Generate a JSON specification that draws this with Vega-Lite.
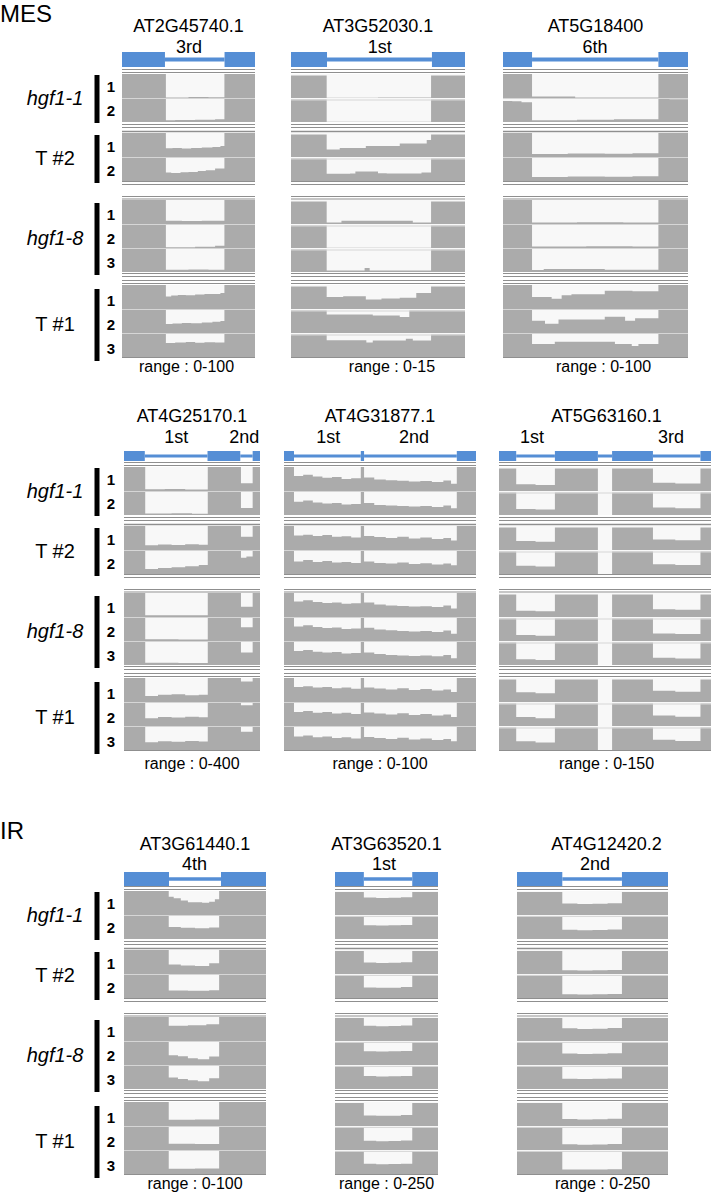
{
"$schema":"https://vega.github.io/schema/vega-lite/v6.json",
"padding":{"top":3,"left":0,"right":0,"bottom":0},
"background":"white",
"config":{"view":{"stroke":null},"font":"Liberation Sans","axis":{"disable":true},"area":{"color":"#ababab","interpolate":"step-after"},"rule":{"color":"#8f8f8f","strokeWidth":1},"text":{"font":"Liberation Sans","color":"black"},"title":{"font":"Liberation Sans","fontWeight":"normal","color":"black"},"point":{"opacity":0}},
"datasets":{
"genes":[{"g":"AT2G45740.1","rng":"range : 0-100"},{"g":"AT3G52030.1","rng":"range : 0-15"},{"g":"AT5G18400","rng":"range : 0-100"},{"g":"AT4G25170.1","rng":"range : 0-400"},{"g":"AT4G31877.1","rng":"range : 0-100"},{"g":"AT5G63160.1","rng":"range : 0-150"},{"g":"AT3G61440.1","rng":"range : 0-100"},{"g":"AT3G63520.1","rng":"range : 0-250"},{"g":"AT4G12420.2","rng":"range : 0-250"}],
"ex":[{"g":"AT2G45740.1","s":0,"e":32.3},{"g":"AT2G45740.1","s":77.1,"e":100},{"g":"AT3G52030.1","s":0,"e":20.7},{"g":"AT3G52030.1","s":81,"e":100},{"g":"AT5G18400","s":0,"e":15.7},{"g":"AT5G18400","s":84,"e":100},{"g":"AT4G25170.1","s":0,"e":15.3},{"g":"AT4G25170.1","s":61.4,"e":85.5},{"g":"AT4G25170.1","s":94.6,"e":100},{"g":"AT4G31877.1","s":0,"e":5.2},{"g":"AT4G31877.1","s":40,"e":41.7},{"g":"AT4G31877.1","s":90,"e":100},{"g":"AT5G63160.1","s":0,"e":8},{"g":"AT5G63160.1","s":26,"e":46},{"g":"AT5G63160.1","s":52.6,"e":71.6},{"g":"AT5G63160.1","s":93.7,"e":100},{"g":"AT3G61440.1","s":0,"e":31.7},{"g":"AT3G61440.1","s":68.3,"e":100},{"g":"AT3G63520.1","s":0,"e":28},{"g":"AT3G63520.1","s":75,"e":100},{"g":"AT4G12420.2","s":0,"e":30},{"g":"AT4G12420.2","s":69.5,"e":100}],
"in":[{"g":"AT2G45740.1","s":32.3,"e":77.1},{"g":"AT3G52030.1","s":20.7,"e":81},{"g":"AT5G18400","s":15.7,"e":84},{"g":"AT4G25170.1","s":15.3,"e":61.4},{"g":"AT4G25170.1","s":85.5,"e":94.6},{"g":"AT4G31877.1","s":5.2,"e":40},{"g":"AT4G31877.1","s":41.7,"e":90},{"g":"AT5G63160.1","s":8,"e":26},{"g":"AT5G63160.1","s":46,"e":52.6},{"g":"AT5G63160.1","s":71.6,"e":93.7},{"g":"AT3G61440.1","s":31.7,"e":68.3},{"g":"AT3G63520.1","s":28,"e":75},{"g":"AT4G12420.2","s":30,"e":69.5}],
"il":[{"g":"AT2G45740.1","x":50.4,"t":"3rd"},{"g":"AT3G52030.1","x":51,"t":"1st"},{"g":"AT5G18400","x":49.7,"t":"6th"},{"g":"AT4G25170.1","x":38.5,"t":"1st"},{"g":"AT4G25170.1","x":88.5,"t":"2nd"},{"g":"AT4G31877.1","x":23,"t":"1st"},{"g":"AT4G31877.1","x":67.7,"t":"2nd"},{"g":"AT5G63160.1","x":15.3,"t":"1st"},{"g":"AT5G63160.1","x":80,"t":"3rd"},{"g":"AT3G61440.1","x":49.6,"t":"4th"},{"g":"AT3G63520.1","x":47.6,"t":"1st"},{"g":"AT4G12420.2","x":51.7,"t":"2nd"}],
"lab":[{"s":"hgf1-1","p":"name"},{"s":"hgf1-1","p":"bar"},{"s":"hgf1-1","p":"num","r":1},{"s":"hgf1-1","p":"num","r":2},{"s":"T #2","p":"name"},{"s":"T #2","p":"bar"},{"s":"T #2","p":"num","r":1},{"s":"T #2","p":"num","r":2},{"s":"hgf1-8","p":"name"},{"s":"hgf1-8","p":"bar"},{"s":"hgf1-8","p":"num","r":1},{"s":"hgf1-8","p":"num","r":2},{"s":"hgf1-8","p":"num","r":3},{"s":"T #1","p":"name"},{"s":"T #1","p":"bar"},{"s":"T #1","p":"num","r":1},{"s":"T #1","p":"num","r":2},{"s":"T #1","p":"num","r":3}],
"cov":[
{"g":"AT2G45740.1","s":"hgf1-1","r":1,"x":[0,33,50,65,77,100],"y":[100,2,4,3,100,100]},
{"g":"AT2G45740.1","s":"hgf1-1","r":2,"x":[0,33,40,55,70,77,100],"y":[100,7,8,9,11,100,100]},
{"g":"AT2G45740.1","s":"T #2","r":1,"x":[0,33,38,45,52,60,68,74,77,100],"y":[100,36,37,35,38,40,42,46,100,100]},
{"g":"AT2G45740.1","s":"T #2","r":2,"x":[0,33,37,44,50,57,63,70,77,100],"y":[100,35,33,36,38,42,45,52,100,100]},
{"g":"AT2G45740.1","s":"hgf1-8","r":1,"x":[0,33,45,60,77,100],"y":[100,14,13,14,100,100]},
{"g":"AT2G45740.1","s":"hgf1-8","r":2,"x":[0,33,55,70,77,100],"y":[100,3,5,9,100,100]},
{"g":"AT2G45740.1","s":"hgf1-8","r":3,"x":[0,33,50,65,77,100],"y":[100,9,10,9,100,100]},
{"g":"AT2G45740.1","s":"T #1","r":1,"x":[0,33,37,42,48,55,62,70,74,77,100],"y":[100,52,56,58,57,60,62,63,67,100,100]},
{"g":"AT2G45740.1","s":"T #1","r":2,"x":[0,33,38,45,52,60,68,74,77,100],"y":[100,38,40,42,41,44,47,50,100,100]},
{"g":"AT2G45740.1","s":"T #1","r":3,"x":[0,33,40,48,55,62,70,77,100],"y":[100,58,60,62,59,61,60,100,100]},
{"g":"AT3G52030.1","s":"hgf1-1","r":1,"x":[0,20.5,50,80.5,100],"y":[15,0.2,0.3,15,15]},
{"g":"AT3G52030.1","s":"hgf1-1","r":2,"x":[0,20.5,50,80.5,100],"y":[15,0.2,0.2,15,15]},
{"g":"AT3G52030.1","s":"T #2","r":1,"x":[0,20.5,28,43,62.5,78,80.5,100],"y":[15,5,6,7.4,9,11.4,15,15]},
{"g":"AT3G52030.1","s":"T #2","r":2,"x":[0,20.5,34,37,50,55,75,80.5,100],"y":[15,4.9,5,6.4,5.2,5,5.6,15,15]},
{"g":"AT3G52030.1","s":"hgf1-8","r":1,"x":[0,20.5,29,70,80.5,100],"y":[15,1,2.1,1,15,15]},
{"g":"AT3G52030.1","s":"hgf1-8","r":2,"x":[0,20.5,80.5,100],"y":[15,0.2,15,15]},
{"g":"AT3G52030.1","s":"hgf1-8","r":3,"x":[0,20.5,42.3,45.2,80.5,100],"y":[15,1,2.6,1,15,15]},
{"g":"AT3G52030.1","s":"T #1","r":1,"x":[0,20.5,30,43,52,62.5,72,80.5,100],"y":[15,8,8.5,6.4,7,7.5,10.7,15,15]},
{"g":"AT3G52030.1","s":"T #1","r":2,"x":[0,20.5,47,62.5,68,100],"y":[15,12.3,11.6,10.6,15,15]},
{"g":"AT3G52030.1","s":"T #1","r":3,"x":[0,20.5,43.3,47,66,70,80.5,100],"y":[15,11.1,9.6,11,12.2,11,15,15]},
{"g":"AT5G18400","s":"hgf1-1","r":1,"x":[0,15.7,39,84,100],"y":[100,6,2,100,100]},
{"g":"AT5G18400","s":"hgf1-1","r":2,"x":[0,5,10,15.7,40,60,84,90,100],"y":[88,86,82,7,9,11,97,95,95]},
{"g":"AT5G18400","s":"T #2","r":1,"x":[0,15.7,35,55,70,84,100],"y":[100,13,15,14,16,100,100]},
{"g":"AT5G18400","s":"T #2","r":2,"x":[0,15.7,35,55,70,84,100],"y":[100,17,19,18,20,100,100]},
{"g":"AT5G18400","s":"hgf1-8","r":1,"x":[0,15.7,40,65,84,100],"y":[100,6,7,6,100,100]},
{"g":"AT5G18400","s":"hgf1-8","r":2,"x":[0,15.7,45,70,84,100],"y":[100,6,7,6,100,100]},
{"g":"AT5G18400","s":"hgf1-8","r":3,"x":[0,15.7,22,55,84,100],"y":[100,8,13,9,100,100]},
{"g":"AT5G18400","s":"T #1","r":1,"x":[0,15.7,26.3,31.7,37,55,70,84,100],"y":[100,50,43,57,61,76,74,100,100]},
{"g":"AT5G18400","s":"T #1","r":2,"x":[0,15.7,22.7,30,55,66,71.4,84,100],"y":[100,51,39,56,68,51,61,100,100]},
{"g":"AT5G18400","s":"T #1","r":3,"x":[0,15.7,28,60.5,69.6,73.2,84,100],"y":[100,54,64,54,46,54,100,100]},
{"g":"AT4G25170.1","s":"hgf1-1","r":1,"x":[0,15.6,30,45,61.6,86,94.6,100],"y":[400,28,34,26,400,128,400,400]},
{"g":"AT4G25170.1","s":"hgf1-1","r":2,"x":[0,15.6,35,50,61.6,86,94.6,100],"y":[400,24,28,22,400,116,400,400]},
{"g":"AT4G25170.1","s":"T #2","r":1,"x":[0,15.6,25,35,45,55,61.6,86,94.6,100],"y":[400,80,92,84,96,88,400,220,400,400]},
{"g":"AT4G25170.1","s":"T #2","r":2,"x":[0,15.6,25,35,45,55,61.6,86,90,94.6,100],"y":[400,84,100,112,128,150,400,270,290,400,400]},
{"g":"AT4G25170.1","s":"hgf1-8","r":1,"x":[0,15.6,40,61.6,86,94.6,100],"y":[400,28,30,400,172,400,400]},
{"g":"AT4G25170.1","s":"hgf1-8","r":2,"x":[0,15.6,40,61.6,86,94.6,100],"y":[400,28,26,400,228,400,400]},
{"g":"AT4G25170.1","s":"hgf1-8","r":3,"x":[0,15.6,40,61.6,86,94.6,100],"y":[400,36,34,400,208,400,400]},
{"g":"AT4G25170.1","s":"T #1","r":1,"x":[0,15.6,25,35,45,55,61.6,86,94.6,100],"y":[400,100,120,128,112,120,400,340,400,400]},
{"g":"AT4G25170.1","s":"T #1","r":2,"x":[0,15.6,25,35,45,55,61.6,86,94.6,100],"y":[400,130,150,140,156,144,400,344,400,400]},
{"g":"AT4G25170.1","s":"T #1","r":3,"x":[0,15.6,25,35,45,55,61.6,86,94.6,100],"y":[400,128,144,136,150,140,400,304,400,400]},
{"g":"AT4G31877.1","s":"hgf1-1","r":1,"x":[0,5.2,10,15,20,25,30,35,40,41.7,47,53,59,65,71,77,83,87,90,100],"y":[100,62,68,60,55,58,50,53,100,56,48,45,43,40,42,38,44,30,100,100]},
{"g":"AT4G31877.1","s":"hgf1-1","r":2,"x":[0,5.2,10,15,20,25,30,35,40,41.7,47,53,59,65,71,77,83,87,90,100],"y":[100,55,60,52,48,50,44,46,100,50,42,40,38,35,37,33,40,28,100,100]},
{"g":"AT4G31877.1","s":"T #2","r":1,"x":[0,5.2,10,15,20,25,30,35,40,41.7,47,53,59,65,71,77,83,87,90,100],"y":[100,60,64,58,62,55,57,52,100,58,54,50,55,48,52,46,50,40,100,100]},
{"g":"AT4G31877.1","s":"T #2","r":2,"x":[0,5.2,10,15,20,25,30,35,40,41.7,47,53,59,65,71,77,83,87,90,100],"y":[100,52,58,50,54,48,50,46,100,52,46,44,48,42,45,40,44,36,100,100]},
{"g":"AT4G31877.1","s":"hgf1-8","r":1,"x":[0,5.2,10,15,20,25,30,35,40,41.7,47,53,59,65,71,77,83,87,90,100],"y":[100,65,70,62,58,60,55,57,100,60,52,48,46,44,45,42,48,35,100,100]},
{"g":"AT4G31877.1","s":"hgf1-8","r":2,"x":[0,5.2,10,15,20,25,30,35,40,41.7,47,53,59,65,71,77,83,87,90,100],"y":[100,60,66,58,54,56,50,52,100,55,48,45,42,40,42,38,44,30,100,100]},
{"g":"AT4G31877.1","s":"hgf1-8","r":3,"x":[0,5.2,10,15,20,25,30,35,40,41.7,47,53,59,65,71,77,83,87,90,100],"y":[100,58,63,55,52,54,48,50,100,52,46,42,40,38,40,36,42,28,100,100]},
{"g":"AT4G31877.1","s":"T #1","r":1,"x":[0,5.2,10,15,20,25,30,35,40,41.7,47,53,59,65,71,77,83,87,90,100],"y":[100,62,66,60,63,57,60,55,100,60,56,52,57,50,54,48,52,42,100,100]},
{"g":"AT4G31877.1","s":"T #1","r":2,"x":[0,5.2,10,15,20,25,30,35,40,41.7,47,53,59,65,71,77,83,87,90,100],"y":[100,58,62,55,58,52,55,50,100,56,52,48,53,46,50,44,48,38,100,100]},
{"g":"AT4G31877.1","s":"T #1","r":3,"x":[0,5.2,10,15,20,25,30,35,40,41.7,47,53,59,65,71,77,83,87,90,100],"y":[100,56,60,53,56,50,53,48,100,54,50,46,51,44,48,42,46,36,100,100]},
{"g":"AT5G63160.1","s":"hgf1-1","r":1,"x":[0,8,17,26,46,52.6,71.6,82,93.7,100],"y":[150,45,40,150,0,150,55,50,150,150]},
{"g":"AT5G63160.1","s":"hgf1-1","r":2,"x":[0,8,17,26,46,52.6,71.6,82,93.7,100],"y":[150,40,36,150,0,150,50,45,150,150]},
{"g":"AT5G63160.1","s":"T #2","r":1,"x":[0,8,17,26,46,52.6,71.6,82,93.7,100],"y":[150,60,55,150,0,150,70,65,150,150]},
{"g":"AT5G63160.1","s":"T #2","r":2,"x":[0,8,17,26,46,52.6,71.6,82,93.7,100],"y":[150,55,50,150,0,150,65,60,150,150]},
{"g":"AT5G63160.1","s":"hgf1-8","r":1,"x":[0,8,17,26,46,52.6,71.6,82,93.7,100],"y":[150,42,38,150,0,150,52,48,150,150]},
{"g":"AT5G63160.1","s":"hgf1-8","r":2,"x":[0,8,17,26,46,52.6,71.6,82,93.7,100],"y":[150,40,35,150,0,150,50,46,150,150]},
{"g":"AT5G63160.1","s":"hgf1-8","r":3,"x":[0,8,17,26,46,52.6,71.6,82,93.7,100],"y":[150,38,34,150,0,150,48,44,150,150]},
{"g":"AT5G63160.1","s":"T #1","r":1,"x":[0,8,17,26,46,52.6,71.6,82,93.7,100],"y":[150,65,58,150,0,150,75,68,150,150]},
{"g":"AT5G63160.1","s":"T #1","r":2,"x":[0,8,17,26,46,52.6,71.6,82,93.7,100],"y":[150,60,52,150,0,150,70,62,150,150]},
{"g":"AT5G63160.1","s":"T #1","r":3,"x":[0,8,17,26,46,52.6,71.6,82,93.7,100],"y":[150,58,50,150,0,150,68,60,150,150]},
{"g":"AT3G61440.1","s":"hgf1-1","r":1,"x":[0,31.5,35,40,45,55,60,64,67,100],"y":[100,76,70,60,53,51,55,66,100,100]},
{"g":"AT3G61440.1","s":"hgf1-1","r":2,"x":[0,31.5,40,50,60,67,100],"y":[100,50,47,45,48,100,100]},
{"g":"AT3G61440.1","s":"T #2","r":1,"x":[0,31.5,40,50,60,67,100],"y":[100,40,35,33,45,100,100]},
{"g":"AT3G61440.1","s":"T #2","r":2,"x":[0,31.5,45,60,67,100],"y":[100,31,30,32,100,100]},
{"g":"AT3G61440.1","s":"hgf1-8","r":1,"x":[0,31.5,45,58,67,100],"y":[100,64,66,70,100,100]},
{"g":"AT3G61440.1","s":"hgf1-8","r":2,"x":[0,31.5,38,45,52,60,67,100],"y":[100,41,36,28,24,35,100,100]},
{"g":"AT3G61440.1","s":"hgf1-8","r":3,"x":[0,31.5,38,45,52,60,67,100],"y":[100,48,42,36,32,45,100,100]},
{"g":"AT3G61440.1","s":"T #1","r":1,"x":[0,31.5,50,67,100],"y":[100,26,27,100,100]},
{"g":"AT3G61440.1","s":"T #1","r":2,"x":[0,31.5,50,67,100],"y":[100,26,25,100,100]},
{"g":"AT3G61440.1","s":"T #1","r":3,"x":[0,31.5,50,67,100],"y":[100,22,23,100,100]},
{"g":"AT3G63520.1","s":"hgf1-1","r":1,"x":[0,28,40,52,64,75,100],"y":[250,190,185,188,192,250,250]},
{"g":"AT3G63520.1","s":"hgf1-1","r":2,"x":[0,28,40,52,64,75,100],"y":[250,150,145,148,152,250,250]},
{"g":"AT3G63520.1","s":"T #2","r":1,"x":[0,28,40,52,64,75,100],"y":[250,125,120,122,128,250,250]},
{"g":"AT3G63520.1","s":"T #2","r":2,"x":[0,28,40,52,64,75,100],"y":[250,115,110,112,118,250,250]},
{"g":"AT3G63520.1","s":"hgf1-8","r":1,"x":[0,28,40,52,64,75,100],"y":[250,165,160,162,168,250,250]},
{"g":"AT3G63520.1","s":"hgf1-8","r":2,"x":[0,28,40,52,64,75,100],"y":[250,150,145,148,152,250,250]},
{"g":"AT3G63520.1","s":"hgf1-8","r":3,"x":[0,28,40,52,64,75,100],"y":[250,140,135,138,142,250,250]},
{"g":"AT3G63520.1","s":"T #1","r":1,"x":[0,28,40,52,64,75,100],"y":[250,115,110,112,118,250,250]},
{"g":"AT3G63520.1","s":"T #1","r":2,"x":[0,28,40,52,64,75,100],"y":[250,100,95,98,102,250,250]},
{"g":"AT3G63520.1","s":"T #1","r":3,"x":[0,28,40,52,64,75,100],"y":[250,110,105,108,112,250,250]},
{"g":"AT4G12420.2","s":"hgf1-1","r":1,"x":[0,30,40,50,60,69.5,100],"y":[250,125,120,122,128,250,250]},
{"g":"AT4G12420.2","s":"hgf1-1","r":2,"x":[0,30,40,50,60,69.5,100],"y":[250,100,95,98,102,250,250]},
{"g":"AT4G12420.2","s":"T #2","r":1,"x":[0,30,40,50,60,69.5,100],"y":[250,40,38,40,42,250,250]},
{"g":"AT4G12420.2","s":"T #2","r":2,"x":[0,30,40,50,60,69.5,100],"y":[250,40,38,40,42,250,250]},
{"g":"AT4G12420.2","s":"hgf1-8","r":1,"x":[0,30,40,50,60,69.5,100],"y":[250,137,130,133,140,250,250]},
{"g":"AT4G12420.2","s":"hgf1-8","r":2,"x":[0,30,40,50,60,69.5,100],"y":[250,125,120,122,128,250,250]},
{"g":"AT4G12420.2","s":"hgf1-8","r":3,"x":[0,30,40,50,60,69.5,100],"y":[250,112,108,110,115,250,250]},
{"g":"AT4G12420.2","s":"T #1","r":1,"x":[0,30,40,50,60,69.5,100],"y":[250,75,70,72,78,250,250]},
{"g":"AT4G12420.2","s":"T #1","r":2,"x":[0,30,40,50,60,69.5,100],"y":[250,62,58,60,65,250,250]},
{"g":"AT4G12420.2","s":"T #1","r":3,"x":[0,30,40,50,60,69.5,100],"y":[250,50,48,50,52,250,250]}
]},
"spacing":48,
"vconcat":[
{"title":{"text":"MES","anchor":"start","fontSize":24,"offset":-9},"spacing":31,"vconcat":[
 {"spacing":0,"hconcat":[
  {"spacing":0,"vconcat":[
   {"width":121,"height":53.5,"data":{"values":[]},"mark":"point"},
   {"width":121,"height":48,"data":{"name":"lab"},"transform":[{"filter":"datum.s=='hgf1-1'"}],"encoding":{"x":{"field":"p","type":"nominal","scale":{"type":"point","domain":["name","a","b","bar","num"],"range":[55,111],"padding":0}}},"layer":[{"transform":[{"filter":"datum.p=='name'"}],"mark":{"type":"text","fontSize":20,"fontStyle":"italic"},"encoding":{"text":{"field":"s"}}},{"transform":[{"filter":"datum.p=='bar'"}],"mark":{"type":"rule","color":"black","strokeWidth":5},"encoding":{}},{"transform":[{"filter":"datum.p=='num'"}],"mark":{"type":"text","fontSize":15,"fontWeight":"bold"},"encoding":{"text":{"field":"r"},"y":{"field":"r","type":"ordinal","scale":{"type":"band","paddingInner":0,"paddingOuter":0}}}}]},
   {"width":1,"height":6,"data":{"values":[]},"mark":"point"},
   {"width":121,"height":48,"data":{"name":"lab"},"transform":[{"filter":"datum.s=='T #2'"}],"encoding":{"x":{"field":"p","type":"nominal","scale":{"type":"point","domain":["name","a","b","bar","num"],"range":[55,111],"padding":0}}},"layer":[{"transform":[{"filter":"datum.p=='name'"}],"mark":{"type":"text","fontSize":20},"encoding":{"text":{"field":"s"}}},{"transform":[{"filter":"datum.p=='bar'"}],"mark":{"type":"rule","color":"black","strokeWidth":5},"encoding":{}},{"transform":[{"filter":"datum.p=='num'"}],"mark":{"type":"text","fontSize":15,"fontWeight":"bold"},"encoding":{"text":{"field":"r"},"y":{"field":"r","type":"ordinal","scale":{"type":"band","paddingInner":0,"paddingOuter":0}}}}]},
   {"width":1,"height":14,"data":{"values":[]},"mark":"point"},
   {"width":121,"height":72,"data":{"name":"lab"},"transform":[{"filter":"datum.s=='hgf1-8'"}],"encoding":{"x":{"field":"p","type":"nominal","scale":{"type":"point","domain":["name","a","b","bar","num"],"range":[55,111],"padding":0}}},"layer":[{"transform":[{"filter":"datum.p=='name'"}],"mark":{"type":"text","fontSize":20,"fontStyle":"italic"},"encoding":{"text":{"field":"s"}}},{"transform":[{"filter":"datum.p=='bar'"}],"mark":{"type":"rule","color":"black","strokeWidth":5},"encoding":{}},{"transform":[{"filter":"datum.p=='num'"}],"mark":{"type":"text","fontSize":15,"fontWeight":"bold"},"encoding":{"text":{"field":"r"},"y":{"field":"r","type":"ordinal","scale":{"type":"band","paddingInner":0,"paddingOuter":0}}}}]},
   {"width":1,"height":8,"data":{"values":[]},"mark":"point"},
   {"width":121,"height":72,"data":{"name":"lab"},"transform":[{"filter":"datum.s=='T #1'"}],"encoding":{"x":{"field":"p","type":"nominal","scale":{"type":"point","domain":["name","a","b","bar","num"],"range":[55,111],"padding":0}}},"layer":[{"transform":[{"filter":"datum.p=='name'"}],"mark":{"type":"text","fontSize":20},"encoding":{"text":{"field":"s"}}},{"transform":[{"filter":"datum.p=='bar'"}],"mark":{"type":"rule","color":"black","strokeWidth":5},"encoding":{}},{"transform":[{"filter":"datum.p=='num'"}],"mark":{"type":"text","fontSize":15,"fontWeight":"bold"},"encoding":{"text":{"field":"r"},"y":{"field":"r","type":"ordinal","scale":{"type":"band","paddingInner":0,"paddingOuter":0}}}}]}
  ]},
  {"spacing":0,"vconcat":[
   {"width":133,"height":51,"layer":[
    {"data":{"name":"ex"},"transform":[{"filter":"datum.g=='AT2G45740.1'"}],"mark":{"type":"rect","color":"#558ed5"},"encoding":{"x":{"field":"s","type":"quantitative","scale":{"domain":[0,100]}},"x2":{"field":"e"},"y":{"datum":0.39,"type":"quantitative","scale":{"domain":[0,10]}},"y2":{"datum":3.33}}},
    {"data":{"name":"in"},"transform":[{"filter":"datum.g=='AT2G45740.1'"}],"mark":{"type":"rule","color":"#558ed5","strokeWidth":4},"encoding":{"x":{"field":"s","type":"quantitative"},"x2":{"field":"e"},"y":{"datum":1.86,"type":"quantitative"}}},
    {"data":{"name":"il"},"transform":[{"filter":"datum.g=='AT2G45740.1'"}],"mark":{"type":"text","fontSize":18,"baseline":"alphabetic"},"encoding":{"x":{"field":"x","type":"quantitative"},"y":{"datum":3.14,"type":"quantitative"},"text":{"field":"t"}}},
    {"data":{"name":"genes"},"transform":[{"filter":"datum.g=='AT2G45740.1'"}],"mark":{"type":"text","fontSize":18,"baseline":"alphabetic"},"encoding":{"y":{"datum":7.25,"type":"quantitative"},"text":{"field":"g"}}}
   ]},
   {"width":133,"height":5,"data":{"values":[{}]},"encoding":{"y":{"datum":1,"type":"quantitative","scale":{"domain":[0,1]}}},"layer":[{"mark":{"type":"rule","yOffset":0.5},"encoding":{}},{"mark":{"type":"rule","yOffset":3.5},"encoding":{}}]},
   {"data":{"name":"cov"},"transform":[{"filter":"datum.g=='AT2G45740.1'&&datum.s=='hgf1-1'"},{"flatten":["x","y"]}],"facet":{"row":{"field":"r","type":"ordinal","header":null}},"spacing":0,"spec":{"width":133,"height":24,"view":{"fill":"#f8f8f8"},"layer":[{"mark":"area","encoding":{"x":{"field":"x","type":"quantitative","scale":{"domain":[0,100]}},"y":{"field":"y","type":"quantitative","scale":{"domain":[0,100]}}}},{"transform":[{"filter":"datum.r>1&&datum.x==0"}],"mark":{"type":"rule","color":"#d6d6d6","yOffset":0.5},"encoding":{"y":{"datum":100,"type":"quantitative"}}}]}},
   {"width":133,"height":11,"data":{"values":[{}]},"encoding":{"y":{"datum":1,"type":"quantitative","scale":{"domain":[0,1]}}},"layer":[{"mark":{"type":"rule","yOffset":2.5},"encoding":{}},{"mark":{"type":"rule","yOffset":5.5},"encoding":{}},{"mark":{"type":"rule","yOffset":9.5,"strokeWidth":1.5},"encoding":{}}]},
   {"data":{"name":"cov"},"transform":[{"filter":"datum.g=='AT2G45740.1'&&datum.s=='T #2'"},{"flatten":["x","y"]}],"facet":{"row":{"field":"r","type":"ordinal","header":null}},"spacing":0,"spec":{"width":133,"height":24,"view":{"fill":"#f8f8f8"},"layer":[{"mark":"area","encoding":{"x":{"field":"x","type":"quantitative","scale":{"domain":[0,100]}},"y":{"field":"y","type":"quantitative","scale":{"domain":[0,100]}}}},{"transform":[{"filter":"datum.r>1&&datum.x==0"}],"mark":{"type":"rule","color":"#d6d6d6","yOffset":0.5},"encoding":{"y":{"datum":100,"type":"quantitative"}}}]}},
   {"width":133,"height":19,"data":{"values":[{}]},"encoding":{"y":{"datum":1,"type":"quantitative","scale":{"domain":[0,1]}}},"layer":[{"mark":{"type":"rule","yOffset":0.5},"encoding":{}},{"mark":{"type":"rule","yOffset":3.5},"encoding":{}},{"mark":{"type":"rule","yOffset":15.5},"encoding":{}},{"mark":{"type":"rule","yOffset":18},"encoding":{}}]},
   {"data":{"name":"cov"},"transform":[{"filter":"datum.g=='AT2G45740.1'&&datum.s=='hgf1-8'"},{"flatten":["x","y"]}],"facet":{"row":{"field":"r","type":"ordinal","header":null}},"spacing":0,"spec":{"width":133,"height":24,"view":{"fill":"#f8f8f8"},"layer":[{"mark":"area","encoding":{"x":{"field":"x","type":"quantitative","scale":{"domain":[0,100]}},"y":{"field":"y","type":"quantitative","scale":{"domain":[0,100]}}}},{"transform":[{"filter":"datum.r>1&&datum.x==0"}],"mark":{"type":"rule","color":"#d6d6d6","yOffset":0.5},"encoding":{"y":{"datum":100,"type":"quantitative"}}}]}},
   {"width":133,"height":13,"data":{"values":[{}]},"encoding":{"y":{"datum":1,"type":"quantitative","scale":{"domain":[0,1]}}},"layer":[{"mark":{"type":"rule","yOffset":1.5},"encoding":{}},{"mark":{"type":"rule","yOffset":4.5},"encoding":{}},{"mark":{"type":"rule","yOffset":8.5},"encoding":{}},{"mark":{"type":"rule","yOffset":11.5},"encoding":{}}]},
   {"data":{"name":"cov"},"transform":[{"filter":"datum.g=='AT2G45740.1'&&datum.s=='T #1'"},{"flatten":["x","y"]}],"facet":{"row":{"field":"r","type":"ordinal","header":null}},"spacing":0,"spec":{"width":133,"height":24,"view":{"fill":"#f8f8f8"},"layer":[{"mark":"area","encoding":{"x":{"field":"x","type":"quantitative","scale":{"domain":[0,100]}},"y":{"field":"y","type":"quantitative","scale":{"domain":[0,100]}}}},{"transform":[{"filter":"datum.r>1&&datum.x==0"}],"mark":{"type":"rule","color":"#d6d6d6","yOffset":0.5},"encoding":{"y":{"datum":100,"type":"quantitative"}}}]}},
   {"width":133,"height":2,"data":{"values":[{}]},"encoding":{"y":{"datum":1,"type":"quantitative","scale":{"domain":[0,1]}}},"layer":[{"mark":{"type":"rule","yOffset":0.5},"encoding":{}}]},
   {"width":133,"height":16,"data":{"name":"genes"},"transform":[{"filter":"datum.g=='AT2G45740.1'"}],"mark":{"type":"text","fontSize":16,"dx":-2},"encoding":{"text":{"field":"rng"}}}
  ]},
  {"width":34,"height":1,"data":{"values":[]},"mark":"point"},
  {"spacing":0,"vconcat":[
   {"width":174,"height":51,"layer":[
    {"data":{"name":"ex"},"transform":[{"filter":"datum.g=='AT3G52030.1'"}],"mark":{"type":"rect","color":"#558ed5"},"encoding":{"x":{"field":"s","type":"quantitative","scale":{"domain":[0,100]}},"x2":{"field":"e"},"y":{"datum":0.39,"type":"quantitative","scale":{"domain":[0,10]}},"y2":{"datum":3.33}}},
    {"data":{"name":"in"},"transform":[{"filter":"datum.g=='AT3G52030.1'"}],"mark":{"type":"rule","color":"#558ed5","strokeWidth":4},"encoding":{"x":{"field":"s","type":"quantitative"},"x2":{"field":"e"},"y":{"datum":1.86,"type":"quantitative"}}},
    {"data":{"name":"il"},"transform":[{"filter":"datum.g=='AT3G52030.1'"}],"mark":{"type":"text","fontSize":18,"baseline":"alphabetic"},"encoding":{"x":{"field":"x","type":"quantitative"},"y":{"datum":3.14,"type":"quantitative"},"text":{"field":"t"}}},
    {"data":{"name":"genes"},"transform":[{"filter":"datum.g=='AT3G52030.1'"}],"mark":{"type":"text","fontSize":18,"baseline":"alphabetic"},"encoding":{"y":{"datum":7.25,"type":"quantitative"},"text":{"field":"g"}}}
   ]},
   {"width":174,"height":5,"data":{"values":[{}]},"encoding":{"y":{"datum":1,"type":"quantitative","scale":{"domain":[0,1]}}},"layer":[{"mark":{"type":"rule","yOffset":0.5},"encoding":{}},{"mark":{"type":"rule","yOffset":3.5},"encoding":{}}]},
   {"data":{"name":"cov"},"transform":[{"filter":"datum.g=='AT3G52030.1'&&datum.s=='hgf1-1'"},{"flatten":["x","y"]}],"facet":{"row":{"field":"r","type":"ordinal","header":null}},"spacing":0,"spec":{"width":174,"height":24,"view":{"fill":"#f8f8f8"},"layer":[{"mark":"area","encoding":{"x":{"field":"x","type":"quantitative","scale":{"domain":[0,100]}},"y":{"field":"y","type":"quantitative","scale":{"domain":[0,15]}}}},{"transform":[{"filter":"datum.r>1&&datum.x==0"}],"mark":{"type":"rule","color":"#d6d6d6","yOffset":0.5},"encoding":{"y":{"datum":15,"type":"quantitative"}}}]}},
   {"width":174,"height":11,"data":{"values":[{}]},"encoding":{"y":{"datum":1,"type":"quantitative","scale":{"domain":[0,1]}}},"layer":[{"mark":{"type":"rule","yOffset":2.5},"encoding":{}},{"mark":{"type":"rule","yOffset":5.5},"encoding":{}},{"mark":{"type":"rule","yOffset":9.5,"strokeWidth":1.5},"encoding":{}}]},
   {"data":{"name":"cov"},"transform":[{"filter":"datum.g=='AT3G52030.1'&&datum.s=='T #2'"},{"flatten":["x","y"]}],"facet":{"row":{"field":"r","type":"ordinal","header":null}},"spacing":0,"spec":{"width":174,"height":24,"view":{"fill":"#f8f8f8"},"layer":[{"mark":"area","encoding":{"x":{"field":"x","type":"quantitative","scale":{"domain":[0,100]}},"y":{"field":"y","type":"quantitative","scale":{"domain":[0,15]}}}},{"transform":[{"filter":"datum.r>1&&datum.x==0"}],"mark":{"type":"rule","color":"#d6d6d6","yOffset":0.5},"encoding":{"y":{"datum":15,"type":"quantitative"}}}]}},
   {"width":174,"height":19,"data":{"values":[{}]},"encoding":{"y":{"datum":1,"type":"quantitative","scale":{"domain":[0,1]}}},"layer":[{"mark":{"type":"rule","yOffset":0.5},"encoding":{}},{"mark":{"type":"rule","yOffset":3.5},"encoding":{}},{"mark":{"type":"rule","yOffset":15.5},"encoding":{}},{"mark":{"type":"rule","yOffset":18},"encoding":{}}]},
   {"data":{"name":"cov"},"transform":[{"filter":"datum.g=='AT3G52030.1'&&datum.s=='hgf1-8'"},{"flatten":["x","y"]}],"facet":{"row":{"field":"r","type":"ordinal","header":null}},"spacing":0,"spec":{"width":174,"height":24,"view":{"fill":"#f8f8f8"},"layer":[{"mark":"area","encoding":{"x":{"field":"x","type":"quantitative","scale":{"domain":[0,100]}},"y":{"field":"y","type":"quantitative","scale":{"domain":[0,15]}}}},{"transform":[{"filter":"datum.r>1&&datum.x==0"}],"mark":{"type":"rule","color":"#d6d6d6","yOffset":0.5},"encoding":{"y":{"datum":15,"type":"quantitative"}}}]}},
   {"width":174,"height":13,"data":{"values":[{}]},"encoding":{"y":{"datum":1,"type":"quantitative","scale":{"domain":[0,1]}}},"layer":[{"mark":{"type":"rule","yOffset":1.5},"encoding":{}},{"mark":{"type":"rule","yOffset":4.5},"encoding":{}},{"mark":{"type":"rule","yOffset":8.5},"encoding":{}},{"mark":{"type":"rule","yOffset":11.5},"encoding":{}}]},
   {"data":{"name":"cov"},"transform":[{"filter":"datum.g=='AT3G52030.1'&&datum.s=='T #1'"},{"flatten":["x","y"]}],"facet":{"row":{"field":"r","type":"ordinal","header":null}},"spacing":0,"spec":{"width":174,"height":24,"view":{"fill":"#f8f8f8"},"layer":[{"mark":"area","encoding":{"x":{"field":"x","type":"quantitative","scale":{"domain":[0,100]}},"y":{"field":"y","type":"quantitative","scale":{"domain":[0,15]}}}},{"transform":[{"filter":"datum.r>1&&datum.x==0"}],"mark":{"type":"rule","color":"#d6d6d6","yOffset":0.5},"encoding":{"y":{"datum":15,"type":"quantitative"}}}]}},
   {"width":174,"height":2,"data":{"values":[{}]},"encoding":{"y":{"datum":1,"type":"quantitative","scale":{"domain":[0,1]}}},"layer":[{"mark":{"type":"rule","yOffset":0.5},"encoding":{}}]},
   {"width":174,"height":16,"data":{"name":"genes"},"transform":[{"filter":"datum.g=='AT3G52030.1'"}],"mark":{"type":"text","fontSize":16,"dx":14},"encoding":{"text":{"field":"rng"}}}
  ]},
  {"width":36,"height":1,"data":{"values":[]},"mark":"point"},
  {"spacing":0,"vconcat":[
   {"width":185,"height":51,"layer":[
    {"data":{"name":"ex"},"transform":[{"filter":"datum.g=='AT5G18400'"}],"mark":{"type":"rect","color":"#558ed5"},"encoding":{"x":{"field":"s","type":"quantitative","scale":{"domain":[0,100]}},"x2":{"field":"e"},"y":{"datum":0.39,"type":"quantitative","scale":{"domain":[0,10]}},"y2":{"datum":3.33}}},
    {"data":{"name":"in"},"transform":[{"filter":"datum.g=='AT5G18400'"}],"mark":{"type":"rule","color":"#558ed5","strokeWidth":4},"encoding":{"x":{"field":"s","type":"quantitative"},"x2":{"field":"e"},"y":{"datum":1.86,"type":"quantitative"}}},
    {"data":{"name":"il"},"transform":[{"filter":"datum.g=='AT5G18400'"}],"mark":{"type":"text","fontSize":18,"baseline":"alphabetic"},"encoding":{"x":{"field":"x","type":"quantitative"},"y":{"datum":3.14,"type":"quantitative"},"text":{"field":"t"}}},
    {"data":{"name":"genes"},"transform":[{"filter":"datum.g=='AT5G18400'"}],"mark":{"type":"text","fontSize":18,"baseline":"alphabetic"},"encoding":{"y":{"datum":7.25,"type":"quantitative"},"text":{"field":"g"}}}
   ]},
   {"width":185,"height":5,"data":{"values":[{}]},"encoding":{"y":{"datum":1,"type":"quantitative","scale":{"domain":[0,1]}}},"layer":[{"mark":{"type":"rule","yOffset":0.5},"encoding":{}},{"mark":{"type":"rule","yOffset":3.5},"encoding":{}}]},
   {"data":{"name":"cov"},"transform":[{"filter":"datum.g=='AT5G18400'&&datum.s=='hgf1-1'"},{"flatten":["x","y"]}],"facet":{"row":{"field":"r","type":"ordinal","header":null}},"spacing":0,"spec":{"width":185,"height":24,"view":{"fill":"#f8f8f8"},"layer":[{"mark":"area","encoding":{"x":{"field":"x","type":"quantitative","scale":{"domain":[0,100]}},"y":{"field":"y","type":"quantitative","scale":{"domain":[0,100]}}}},{"transform":[{"filter":"datum.r>1&&datum.x==0"}],"mark":{"type":"rule","color":"#d6d6d6","yOffset":0.5},"encoding":{"y":{"datum":100,"type":"quantitative"}}}]}},
   {"width":185,"height":11,"data":{"values":[{}]},"encoding":{"y":{"datum":1,"type":"quantitative","scale":{"domain":[0,1]}}},"layer":[{"mark":{"type":"rule","yOffset":2.5},"encoding":{}},{"mark":{"type":"rule","yOffset":5.5},"encoding":{}},{"mark":{"type":"rule","yOffset":9.5,"strokeWidth":1.5},"encoding":{}}]},
   {"data":{"name":"cov"},"transform":[{"filter":"datum.g=='AT5G18400'&&datum.s=='T #2'"},{"flatten":["x","y"]}],"facet":{"row":{"field":"r","type":"ordinal","header":null}},"spacing":0,"spec":{"width":185,"height":24,"view":{"fill":"#f8f8f8"},"layer":[{"mark":"area","encoding":{"x":{"field":"x","type":"quantitative","scale":{"domain":[0,100]}},"y":{"field":"y","type":"quantitative","scale":{"domain":[0,100]}}}},{"transform":[{"filter":"datum.r>1&&datum.x==0"}],"mark":{"type":"rule","color":"#d6d6d6","yOffset":0.5},"encoding":{"y":{"datum":100,"type":"quantitative"}}}]}},
   {"width":185,"height":19,"data":{"values":[{}]},"encoding":{"y":{"datum":1,"type":"quantitative","scale":{"domain":[0,1]}}},"layer":[{"mark":{"type":"rule","yOffset":0.5},"encoding":{}},{"mark":{"type":"rule","yOffset":3.5},"encoding":{}},{"mark":{"type":"rule","yOffset":15.5},"encoding":{}},{"mark":{"type":"rule","yOffset":18},"encoding":{}}]},
   {"data":{"name":"cov"},"transform":[{"filter":"datum.g=='AT5G18400'&&datum.s=='hgf1-8'"},{"flatten":["x","y"]}],"facet":{"row":{"field":"r","type":"ordinal","header":null}},"spacing":0,"spec":{"width":185,"height":24,"view":{"fill":"#f8f8f8"},"layer":[{"mark":"area","encoding":{"x":{"field":"x","type":"quantitative","scale":{"domain":[0,100]}},"y":{"field":"y","type":"quantitative","scale":{"domain":[0,100]}}}},{"transform":[{"filter":"datum.r>1&&datum.x==0"}],"mark":{"type":"rule","color":"#d6d6d6","yOffset":0.5},"encoding":{"y":{"datum":100,"type":"quantitative"}}}]}},
   {"width":185,"height":13,"data":{"values":[{}]},"encoding":{"y":{"datum":1,"type":"quantitative","scale":{"domain":[0,1]}}},"layer":[{"mark":{"type":"rule","yOffset":1.5},"encoding":{}},{"mark":{"type":"rule","yOffset":4.5},"encoding":{}},{"mark":{"type":"rule","yOffset":8.5},"encoding":{}},{"mark":{"type":"rule","yOffset":11.5},"encoding":{}}]},
   {"data":{"name":"cov"},"transform":[{"filter":"datum.g=='AT5G18400'&&datum.s=='T #1'"},{"flatten":["x","y"]}],"facet":{"row":{"field":"r","type":"ordinal","header":null}},"spacing":0,"spec":{"width":185,"height":24,"view":{"fill":"#f8f8f8"},"layer":[{"mark":"area","encoding":{"x":{"field":"x","type":"quantitative","scale":{"domain":[0,100]}},"y":{"field":"y","type":"quantitative","scale":{"domain":[0,100]}}}},{"transform":[{"filter":"datum.r>1&&datum.x==0"}],"mark":{"type":"rule","color":"#d6d6d6","yOffset":0.5},"encoding":{"y":{"datum":100,"type":"quantitative"}}}]}},
   {"width":185,"height":2,"data":{"values":[{}]},"encoding":{"y":{"datum":1,"type":"quantitative","scale":{"domain":[0,1]}}},"layer":[{"mark":{"type":"rule","yOffset":0.5},"encoding":{}}]},
   {"width":185,"height":16,"data":{"name":"genes"},"transform":[{"filter":"datum.g=='AT5G18400'"}],"mark":{"type":"text","fontSize":16,"dx":8},"encoding":{"text":{"field":"rng"}}}
  ]}
 ]},
 {"spacing":0,"hconcat":[
  {"spacing":0,"vconcat":[
   {"width":123,"height":58.5,"data":{"values":[]},"mark":"point"},
   {"width":121,"height":48,"data":{"name":"lab"},"transform":[{"filter":"datum.s=='hgf1-1'"}],"encoding":{"x":{"field":"p","type":"nominal","scale":{"type":"point","domain":["name","a","b","bar","num"],"range":[55,111],"padding":0}}},"layer":[{"transform":[{"filter":"datum.p=='name'"}],"mark":{"type":"text","fontSize":20,"fontStyle":"italic"},"encoding":{"text":{"field":"s"}}},{"transform":[{"filter":"datum.p=='bar'"}],"mark":{"type":"rule","color":"black","strokeWidth":5},"encoding":{}},{"transform":[{"filter":"datum.p=='num'"}],"mark":{"type":"text","fontSize":15,"fontWeight":"bold"},"encoding":{"text":{"field":"r"},"y":{"field":"r","type":"ordinal","scale":{"type":"band","paddingInner":0,"paddingOuter":0}}}}]},
   {"width":1,"height":6,"data":{"values":[]},"mark":"point"},
   {"width":121,"height":48,"data":{"name":"lab"},"transform":[{"filter":"datum.s=='T #2'"}],"encoding":{"x":{"field":"p","type":"nominal","scale":{"type":"point","domain":["name","a","b","bar","num"],"range":[55,111],"padding":0}}},"layer":[{"transform":[{"filter":"datum.p=='name'"}],"mark":{"type":"text","fontSize":20},"encoding":{"text":{"field":"s"}}},{"transform":[{"filter":"datum.p=='bar'"}],"mark":{"type":"rule","color":"black","strokeWidth":5},"encoding":{}},{"transform":[{"filter":"datum.p=='num'"}],"mark":{"type":"text","fontSize":15,"fontWeight":"bold"},"encoding":{"text":{"field":"r"},"y":{"field":"r","type":"ordinal","scale":{"type":"band","paddingInner":0,"paddingOuter":0}}}}]},
   {"width":1,"height":14,"data":{"values":[]},"mark":"point"},
   {"width":121,"height":72,"data":{"name":"lab"},"transform":[{"filter":"datum.s=='hgf1-8'"}],"encoding":{"x":{"field":"p","type":"nominal","scale":{"type":"point","domain":["name","a","b","bar","num"],"range":[55,111],"padding":0}}},"layer":[{"transform":[{"filter":"datum.p=='name'"}],"mark":{"type":"text","fontSize":20,"fontStyle":"italic"},"encoding":{"text":{"field":"s"}}},{"transform":[{"filter":"datum.p=='bar'"}],"mark":{"type":"rule","color":"black","strokeWidth":5},"encoding":{}},{"transform":[{"filter":"datum.p=='num'"}],"mark":{"type":"text","fontSize":15,"fontWeight":"bold"},"encoding":{"text":{"field":"r"},"y":{"field":"r","type":"ordinal","scale":{"type":"band","paddingInner":0,"paddingOuter":0}}}}]},
   {"width":1,"height":8,"data":{"values":[]},"mark":"point"},
   {"width":121,"height":72,"data":{"name":"lab"},"transform":[{"filter":"datum.s=='T #1'"}],"encoding":{"x":{"field":"p","type":"nominal","scale":{"type":"point","domain":["name","a","b","bar","num"],"range":[55,111],"padding":0}}},"layer":[{"transform":[{"filter":"datum.p=='name'"}],"mark":{"type":"text","fontSize":20},"encoding":{"text":{"field":"s"}}},{"transform":[{"filter":"datum.p=='bar'"}],"mark":{"type":"rule","color":"black","strokeWidth":5},"encoding":{}},{"transform":[{"filter":"datum.p=='num'"}],"mark":{"type":"text","fontSize":15,"fontWeight":"bold"},"encoding":{"text":{"field":"r"},"y":{"field":"r","type":"ordinal","scale":{"type":"band","paddingInner":0,"paddingOuter":0}}}}]}
  ]},
  {"spacing":0,"vconcat":[
   {"width":136,"height":56,"layer":[
    {"data":{"name":"ex"},"transform":[{"filter":"datum.g=='AT4G25170.1'"}],"mark":{"type":"rect","color":"#558ed5"},"encoding":{"x":{"field":"s","type":"quantitative","scale":{"domain":[0,100]}},"x2":{"field":"e"},"y":{"datum":0.18,"type":"quantitative","scale":{"domain":[0,10]}},"y2":{"datum":1.96}}},
    {"data":{"name":"in"},"transform":[{"filter":"datum.g=='AT4G25170.1'"}],"mark":{"type":"rule","color":"#558ed5","strokeWidth":3},"encoding":{"x":{"field":"s","type":"quantitative"},"x2":{"field":"e"},"y":{"datum":1.07,"type":"quantitative"}}},
    {"data":{"name":"il"},"transform":[{"filter":"datum.g=='AT4G25170.1'"}],"mark":{"type":"text","fontSize":18,"baseline":"alphabetic"},"encoding":{"x":{"field":"x","type":"quantitative"},"y":{"datum":3.39,"type":"quantitative"},"text":{"field":"t"}}},
    {"data":{"name":"genes"},"transform":[{"filter":"datum.g=='AT4G25170.1'"}],"mark":{"type":"text","fontSize":18,"baseline":"alphabetic"},"encoding":{"y":{"datum":7.14,"type":"quantitative"},"text":{"field":"g"}}}
   ]},
   {"width":136,"height":5,"data":{"values":[{}]},"encoding":{"y":{"datum":1,"type":"quantitative","scale":{"domain":[0,1]}}},"layer":[{"mark":{"type":"rule","yOffset":0.5},"encoding":{}},{"mark":{"type":"rule","yOffset":3.5},"encoding":{}}]},
   {"data":{"name":"cov"},"transform":[{"filter":"datum.g=='AT4G25170.1'&&datum.s=='hgf1-1'"},{"flatten":["x","y"]}],"facet":{"row":{"field":"r","type":"ordinal","header":null}},"spacing":0,"spec":{"width":136,"height":24,"view":{"fill":"#f8f8f8"},"layer":[{"mark":"area","encoding":{"x":{"field":"x","type":"quantitative","scale":{"domain":[0,100]}},"y":{"field":"y","type":"quantitative","scale":{"domain":[0,400]}}}},{"transform":[{"filter":"datum.r>1&&datum.x==0"}],"mark":{"type":"rule","color":"#d6d6d6","yOffset":0.5},"encoding":{"y":{"datum":400,"type":"quantitative"}}}]}},
   {"width":136,"height":11,"data":{"values":[{}]},"encoding":{"y":{"datum":1,"type":"quantitative","scale":{"domain":[0,1]}}},"layer":[{"mark":{"type":"rule","yOffset":2.5},"encoding":{}},{"mark":{"type":"rule","yOffset":5.5},"encoding":{}},{"mark":{"type":"rule","yOffset":9.5,"strokeWidth":1.5},"encoding":{}}]},
   {"data":{"name":"cov"},"transform":[{"filter":"datum.g=='AT4G25170.1'&&datum.s=='T #2'"},{"flatten":["x","y"]}],"facet":{"row":{"field":"r","type":"ordinal","header":null}},"spacing":0,"spec":{"width":136,"height":24,"view":{"fill":"#f8f8f8"},"layer":[{"mark":"area","encoding":{"x":{"field":"x","type":"quantitative","scale":{"domain":[0,100]}},"y":{"field":"y","type":"quantitative","scale":{"domain":[0,400]}}}},{"transform":[{"filter":"datum.r>1&&datum.x==0"}],"mark":{"type":"rule","color":"#d6d6d6","yOffset":0.5},"encoding":{"y":{"datum":400,"type":"quantitative"}}}]}},
   {"width":136,"height":19,"data":{"values":[{}]},"encoding":{"y":{"datum":1,"type":"quantitative","scale":{"domain":[0,1]}}},"layer":[{"mark":{"type":"rule","yOffset":0.5},"encoding":{}},{"mark":{"type":"rule","yOffset":3.5},"encoding":{}},{"mark":{"type":"rule","yOffset":15.5},"encoding":{}},{"mark":{"type":"rule","yOffset":18},"encoding":{}}]},
   {"data":{"name":"cov"},"transform":[{"filter":"datum.g=='AT4G25170.1'&&datum.s=='hgf1-8'"},{"flatten":["x","y"]}],"facet":{"row":{"field":"r","type":"ordinal","header":null}},"spacing":0,"spec":{"width":136,"height":24,"view":{"fill":"#f8f8f8"},"layer":[{"mark":"area","encoding":{"x":{"field":"x","type":"quantitative","scale":{"domain":[0,100]}},"y":{"field":"y","type":"quantitative","scale":{"domain":[0,400]}}}},{"transform":[{"filter":"datum.r>1&&datum.x==0"}],"mark":{"type":"rule","color":"#d6d6d6","yOffset":0.5},"encoding":{"y":{"datum":400,"type":"quantitative"}}}]}},
   {"width":136,"height":13,"data":{"values":[{}]},"encoding":{"y":{"datum":1,"type":"quantitative","scale":{"domain":[0,1]}}},"layer":[{"mark":{"type":"rule","yOffset":1.5},"encoding":{}},{"mark":{"type":"rule","yOffset":4.5},"encoding":{}},{"mark":{"type":"rule","yOffset":8.5},"encoding":{}},{"mark":{"type":"rule","yOffset":11.5},"encoding":{}}]},
   {"data":{"name":"cov"},"transform":[{"filter":"datum.g=='AT4G25170.1'&&datum.s=='T #1'"},{"flatten":["x","y"]}],"facet":{"row":{"field":"r","type":"ordinal","header":null}},"spacing":0,"spec":{"width":136,"height":24,"view":{"fill":"#f8f8f8"},"layer":[{"mark":"area","encoding":{"x":{"field":"x","type":"quantitative","scale":{"domain":[0,100]}},"y":{"field":"y","type":"quantitative","scale":{"domain":[0,400]}}}},{"transform":[{"filter":"datum.r>1&&datum.x==0"}],"mark":{"type":"rule","color":"#d6d6d6","yOffset":0.5},"encoding":{"y":{"datum":400,"type":"quantitative"}}}]}},
   {"width":136,"height":6,"data":{"values":[{}]},"encoding":{"y":{"datum":1,"type":"quantitative","scale":{"domain":[0,1]}}},"layer":[{"mark":{"type":"rule","yOffset":0.5},"encoding":{}}]},
   {"width":136,"height":16,"data":{"name":"genes"},"transform":[{"filter":"datum.g=='AT4G25170.1'"}],"mark":{"type":"text","fontSize":16},"encoding":{"text":{"field":"rng"}}}
  ]},
  {"width":22,"height":1,"data":{"values":[]},"mark":"point"},
  {"spacing":0,"vconcat":[
   {"width":192,"height":56,"layer":[
    {"data":{"name":"ex"},"transform":[{"filter":"datum.g=='AT4G31877.1'"}],"mark":{"type":"rect","color":"#558ed5"},"encoding":{"x":{"field":"s","type":"quantitative","scale":{"domain":[0,100]}},"x2":{"field":"e"},"y":{"datum":0.18,"type":"quantitative","scale":{"domain":[0,10]}},"y2":{"datum":1.96}}},
    {"data":{"name":"in"},"transform":[{"filter":"datum.g=='AT4G31877.1'"}],"mark":{"type":"rule","color":"#558ed5","strokeWidth":3},"encoding":{"x":{"field":"s","type":"quantitative"},"x2":{"field":"e"},"y":{"datum":1.07,"type":"quantitative"}}},
    {"data":{"name":"il"},"transform":[{"filter":"datum.g=='AT4G31877.1'"}],"mark":{"type":"text","fontSize":18,"baseline":"alphabetic"},"encoding":{"x":{"field":"x","type":"quantitative"},"y":{"datum":3.39,"type":"quantitative"},"text":{"field":"t"}}},
    {"data":{"name":"genes"},"transform":[{"filter":"datum.g=='AT4G31877.1'"}],"mark":{"type":"text","fontSize":18,"baseline":"alphabetic"},"encoding":{"y":{"datum":7.14,"type":"quantitative"},"text":{"field":"g"}}}
   ]},
   {"width":192,"height":5,"data":{"values":[{}]},"encoding":{"y":{"datum":1,"type":"quantitative","scale":{"domain":[0,1]}}},"layer":[{"mark":{"type":"rule","yOffset":0.5},"encoding":{}},{"mark":{"type":"rule","yOffset":3.5},"encoding":{}}]},
   {"data":{"name":"cov"},"transform":[{"filter":"datum.g=='AT4G31877.1'&&datum.s=='hgf1-1'"},{"flatten":["x","y"]}],"facet":{"row":{"field":"r","type":"ordinal","header":null}},"spacing":0,"spec":{"width":192,"height":24,"view":{"fill":"#f8f8f8"},"layer":[{"mark":"area","encoding":{"x":{"field":"x","type":"quantitative","scale":{"domain":[0,100]}},"y":{"field":"y","type":"quantitative","scale":{"domain":[0,100]}}}},{"transform":[{"filter":"datum.r>1&&datum.x==0"}],"mark":{"type":"rule","color":"#d6d6d6","yOffset":0.5},"encoding":{"y":{"datum":100,"type":"quantitative"}}}]}},
   {"width":192,"height":11,"data":{"values":[{}]},"encoding":{"y":{"datum":1,"type":"quantitative","scale":{"domain":[0,1]}}},"layer":[{"mark":{"type":"rule","yOffset":2.5},"encoding":{}},{"mark":{"type":"rule","yOffset":5.5},"encoding":{}},{"mark":{"type":"rule","yOffset":9.5,"strokeWidth":1.5},"encoding":{}}]},
   {"data":{"name":"cov"},"transform":[{"filter":"datum.g=='AT4G31877.1'&&datum.s=='T #2'"},{"flatten":["x","y"]}],"facet":{"row":{"field":"r","type":"ordinal","header":null}},"spacing":0,"spec":{"width":192,"height":24,"view":{"fill":"#f8f8f8"},"layer":[{"mark":"area","encoding":{"x":{"field":"x","type":"quantitative","scale":{"domain":[0,100]}},"y":{"field":"y","type":"quantitative","scale":{"domain":[0,100]}}}},{"transform":[{"filter":"datum.r>1&&datum.x==0"}],"mark":{"type":"rule","color":"#d6d6d6","yOffset":0.5},"encoding":{"y":{"datum":100,"type":"quantitative"}}}]}},
   {"width":192,"height":19,"data":{"values":[{}]},"encoding":{"y":{"datum":1,"type":"quantitative","scale":{"domain":[0,1]}}},"layer":[{"mark":{"type":"rule","yOffset":0.5},"encoding":{}},{"mark":{"type":"rule","yOffset":3.5},"encoding":{}},{"mark":{"type":"rule","yOffset":15.5},"encoding":{}},{"mark":{"type":"rule","yOffset":18},"encoding":{}}]},
   {"data":{"name":"cov"},"transform":[{"filter":"datum.g=='AT4G31877.1'&&datum.s=='hgf1-8'"},{"flatten":["x","y"]}],"facet":{"row":{"field":"r","type":"ordinal","header":null}},"spacing":0,"spec":{"width":192,"height":24,"view":{"fill":"#f8f8f8"},"layer":[{"mark":"area","encoding":{"x":{"field":"x","type":"quantitative","scale":{"domain":[0,100]}},"y":{"field":"y","type":"quantitative","scale":{"domain":[0,100]}}}},{"transform":[{"filter":"datum.r>1&&datum.x==0"}],"mark":{"type":"rule","color":"#d6d6d6","yOffset":0.5},"encoding":{"y":{"datum":100,"type":"quantitative"}}}]}},
   {"width":192,"height":13,"data":{"values":[{}]},"encoding":{"y":{"datum":1,"type":"quantitative","scale":{"domain":[0,1]}}},"layer":[{"mark":{"type":"rule","yOffset":1.5},"encoding":{}},{"mark":{"type":"rule","yOffset":4.5},"encoding":{}},{"mark":{"type":"rule","yOffset":8.5},"encoding":{}},{"mark":{"type":"rule","yOffset":11.5},"encoding":{}}]},
   {"data":{"name":"cov"},"transform":[{"filter":"datum.g=='AT4G31877.1'&&datum.s=='T #1'"},{"flatten":["x","y"]}],"facet":{"row":{"field":"r","type":"ordinal","header":null}},"spacing":0,"spec":{"width":192,"height":24,"view":{"fill":"#f8f8f8"},"layer":[{"mark":"area","encoding":{"x":{"field":"x","type":"quantitative","scale":{"domain":[0,100]}},"y":{"field":"y","type":"quantitative","scale":{"domain":[0,100]}}}},{"transform":[{"filter":"datum.r>1&&datum.x==0"}],"mark":{"type":"rule","color":"#d6d6d6","yOffset":0.5},"encoding":{"y":{"datum":100,"type":"quantitative"}}}]}},
   {"width":192,"height":6,"data":{"values":[{}]},"encoding":{"y":{"datum":1,"type":"quantitative","scale":{"domain":[0,1]}}},"layer":[{"mark":{"type":"rule","yOffset":0.5},"encoding":{}}]},
   {"width":192,"height":16,"data":{"name":"genes"},"transform":[{"filter":"datum.g=='AT4G31877.1'"}],"mark":{"type":"text","fontSize":16},"encoding":{"text":{"field":"rng"}}}
  ]},
  {"width":21,"height":1,"data":{"values":[]},"mark":"point"},
  {"spacing":0,"vconcat":[
   {"width":215,"height":56,"layer":[
    {"data":{"name":"ex"},"transform":[{"filter":"datum.g=='AT5G63160.1'"}],"mark":{"type":"rect","color":"#558ed5"},"encoding":{"x":{"field":"s","type":"quantitative","scale":{"domain":[0,100]}},"x2":{"field":"e"},"y":{"datum":0.18,"type":"quantitative","scale":{"domain":[0,10]}},"y2":{"datum":1.96}}},
    {"data":{"name":"in"},"transform":[{"filter":"datum.g=='AT5G63160.1'"}],"mark":{"type":"rule","color":"#558ed5","strokeWidth":3},"encoding":{"x":{"field":"s","type":"quantitative"},"x2":{"field":"e"},"y":{"datum":1.07,"type":"quantitative"}}},
    {"data":{"name":"il"},"transform":[{"filter":"datum.g=='AT5G63160.1'"}],"mark":{"type":"text","fontSize":18,"baseline":"alphabetic"},"encoding":{"x":{"field":"x","type":"quantitative"},"y":{"datum":3.39,"type":"quantitative"},"text":{"field":"t"}}},
    {"data":{"name":"genes"},"transform":[{"filter":"datum.g=='AT5G63160.1'"}],"mark":{"type":"text","fontSize":18,"baseline":"alphabetic"},"encoding":{"y":{"datum":7.14,"type":"quantitative"},"text":{"field":"g"}}}
   ]},
   {"width":215,"height":5,"data":{"values":[{}]},"encoding":{"y":{"datum":1,"type":"quantitative","scale":{"domain":[0,1]}}},"layer":[{"mark":{"type":"rule","yOffset":0.5},"encoding":{}},{"mark":{"type":"rule","yOffset":3.5},"encoding":{}}]},
   {"data":{"name":"cov"},"transform":[{"filter":"datum.g=='AT5G63160.1'&&datum.s=='hgf1-1'"},{"flatten":["x","y"]}],"facet":{"row":{"field":"r","type":"ordinal","header":null}},"spacing":0,"spec":{"width":215,"height":24,"view":{"fill":"#f8f8f8"},"layer":[{"mark":"area","encoding":{"x":{"field":"x","type":"quantitative","scale":{"domain":[0,100]}},"y":{"field":"y","type":"quantitative","scale":{"domain":[0,150]}}}},{"transform":[{"filter":"datum.r>1&&datum.x==0"}],"mark":{"type":"rule","color":"#d6d6d6","yOffset":0.5},"encoding":{"y":{"datum":150,"type":"quantitative"}}}]}},
   {"width":215,"height":11,"data":{"values":[{}]},"encoding":{"y":{"datum":1,"type":"quantitative","scale":{"domain":[0,1]}}},"layer":[{"mark":{"type":"rule","yOffset":2.5},"encoding":{}},{"mark":{"type":"rule","yOffset":5.5},"encoding":{}},{"mark":{"type":"rule","yOffset":9.5,"strokeWidth":1.5},"encoding":{}}]},
   {"data":{"name":"cov"},"transform":[{"filter":"datum.g=='AT5G63160.1'&&datum.s=='T #2'"},{"flatten":["x","y"]}],"facet":{"row":{"field":"r","type":"ordinal","header":null}},"spacing":0,"spec":{"width":215,"height":24,"view":{"fill":"#f8f8f8"},"layer":[{"mark":"area","encoding":{"x":{"field":"x","type":"quantitative","scale":{"domain":[0,100]}},"y":{"field":"y","type":"quantitative","scale":{"domain":[0,150]}}}},{"transform":[{"filter":"datum.r>1&&datum.x==0"}],"mark":{"type":"rule","color":"#d6d6d6","yOffset":0.5},"encoding":{"y":{"datum":150,"type":"quantitative"}}}]}},
   {"width":215,"height":19,"data":{"values":[{}]},"encoding":{"y":{"datum":1,"type":"quantitative","scale":{"domain":[0,1]}}},"layer":[{"mark":{"type":"rule","yOffset":0.5},"encoding":{}},{"mark":{"type":"rule","yOffset":3.5},"encoding":{}},{"mark":{"type":"rule","yOffset":15.5},"encoding":{}},{"mark":{"type":"rule","yOffset":18},"encoding":{}}]},
   {"data":{"name":"cov"},"transform":[{"filter":"datum.g=='AT5G63160.1'&&datum.s=='hgf1-8'"},{"flatten":["x","y"]}],"facet":{"row":{"field":"r","type":"ordinal","header":null}},"spacing":0,"spec":{"width":215,"height":24,"view":{"fill":"#f8f8f8"},"layer":[{"mark":"area","encoding":{"x":{"field":"x","type":"quantitative","scale":{"domain":[0,100]}},"y":{"field":"y","type":"quantitative","scale":{"domain":[0,150]}}}},{"transform":[{"filter":"datum.r>1&&datum.x==0"}],"mark":{"type":"rule","color":"#d6d6d6","yOffset":0.5},"encoding":{"y":{"datum":150,"type":"quantitative"}}}]}},
   {"width":215,"height":13,"data":{"values":[{}]},"encoding":{"y":{"datum":1,"type":"quantitative","scale":{"domain":[0,1]}}},"layer":[{"mark":{"type":"rule","yOffset":1.5},"encoding":{}},{"mark":{"type":"rule","yOffset":4.5},"encoding":{}},{"mark":{"type":"rule","yOffset":8.5},"encoding":{}},{"mark":{"type":"rule","yOffset":11.5},"encoding":{}}]},
   {"data":{"name":"cov"},"transform":[{"filter":"datum.g=='AT5G63160.1'&&datum.s=='T #1'"},{"flatten":["x","y"]}],"facet":{"row":{"field":"r","type":"ordinal","header":null}},"spacing":0,"spec":{"width":215,"height":24,"view":{"fill":"#f8f8f8"},"layer":[{"mark":"area","encoding":{"x":{"field":"x","type":"quantitative","scale":{"domain":[0,100]}},"y":{"field":"y","type":"quantitative","scale":{"domain":[0,150]}}}},{"transform":[{"filter":"datum.r>1&&datum.x==0"}],"mark":{"type":"rule","color":"#d6d6d6","yOffset":0.5},"encoding":{"y":{"datum":150,"type":"quantitative"}}}]}},
   {"width":215,"height":6,"data":{"values":[{}]},"encoding":{"y":{"datum":1,"type":"quantitative","scale":{"domain":[0,1]}}},"layer":[{"mark":{"type":"rule","yOffset":0.5},"encoding":{}}]},
   {"width":215,"height":16,"data":{"name":"genes"},"transform":[{"filter":"datum.g=='AT5G63160.1'"}],"mark":{"type":"text","fontSize":16},"encoding":{"text":{"field":"rng"}}}
  ]}
 ]}
]},
{"title":{"text":"IR","anchor":"start","fontSize":24,"offset":-8},"spacing":0,"hconcat":[
  {"spacing":0,"vconcat":[
   {"width":123,"height":52.5,"data":{"values":[]},"mark":"point"},
   {"width":121,"height":48,"data":{"name":"lab"},"transform":[{"filter":"datum.s=='hgf1-1'"}],"encoding":{"x":{"field":"p","type":"nominal","scale":{"type":"point","domain":["name","a","b","bar","num"],"range":[55,111],"padding":0}}},"layer":[{"transform":[{"filter":"datum.p=='name'"}],"mark":{"type":"text","fontSize":20,"fontStyle":"italic"},"encoding":{"text":{"field":"s"}}},{"transform":[{"filter":"datum.p=='bar'"}],"mark":{"type":"rule","color":"black","strokeWidth":5},"encoding":{}},{"transform":[{"filter":"datum.p=='num'"}],"mark":{"type":"text","fontSize":15,"fontWeight":"bold"},"encoding":{"text":{"field":"r"},"y":{"field":"r","type":"ordinal","scale":{"type":"band","paddingInner":0,"paddingOuter":0}}}}]},
   {"width":1,"height":6,"data":{"values":[]},"mark":"point"},
   {"width":121,"height":48,"data":{"name":"lab"},"transform":[{"filter":"datum.s=='T #2'"}],"encoding":{"x":{"field":"p","type":"nominal","scale":{"type":"point","domain":["name","a","b","bar","num"],"range":[55,111],"padding":0}}},"layer":[{"transform":[{"filter":"datum.p=='name'"}],"mark":{"type":"text","fontSize":20},"encoding":{"text":{"field":"s"}}},{"transform":[{"filter":"datum.p=='bar'"}],"mark":{"type":"rule","color":"black","strokeWidth":5},"encoding":{}},{"transform":[{"filter":"datum.p=='num'"}],"mark":{"type":"text","fontSize":15,"fontWeight":"bold"},"encoding":{"text":{"field":"r"},"y":{"field":"r","type":"ordinal","scale":{"type":"band","paddingInner":0,"paddingOuter":0}}}}]},
   {"width":1,"height":14,"data":{"values":[]},"mark":"point"},
   {"width":121,"height":72,"data":{"name":"lab"},"transform":[{"filter":"datum.s=='hgf1-8'"}],"encoding":{"x":{"field":"p","type":"nominal","scale":{"type":"point","domain":["name","a","b","bar","num"],"range":[55,111],"padding":0}}},"layer":[{"transform":[{"filter":"datum.p=='name'"}],"mark":{"type":"text","fontSize":20,"fontStyle":"italic"},"encoding":{"text":{"field":"s"}}},{"transform":[{"filter":"datum.p=='bar'"}],"mark":{"type":"rule","color":"black","strokeWidth":5},"encoding":{}},{"transform":[{"filter":"datum.p=='num'"}],"mark":{"type":"text","fontSize":15,"fontWeight":"bold"},"encoding":{"text":{"field":"r"},"y":{"field":"r","type":"ordinal","scale":{"type":"band","paddingInner":0,"paddingOuter":0}}}}]},
   {"width":1,"height":8,"data":{"values":[]},"mark":"point"},
   {"width":121,"height":72,"data":{"name":"lab"},"transform":[{"filter":"datum.s=='T #1'"}],"encoding":{"x":{"field":"p","type":"nominal","scale":{"type":"point","domain":["name","a","b","bar","num"],"range":[55,111],"padding":0}}},"layer":[{"transform":[{"filter":"datum.p=='name'"}],"mark":{"type":"text","fontSize":20},"encoding":{"text":{"field":"s"}}},{"transform":[{"filter":"datum.p=='bar'"}],"mark":{"type":"rule","color":"black","strokeWidth":5},"encoding":{}},{"transform":[{"filter":"datum.p=='num'"}],"mark":{"type":"text","fontSize":15,"fontWeight":"bold"},"encoding":{"text":{"field":"r"},"y":{"field":"r","type":"ordinal","scale":{"type":"band","paddingInner":0,"paddingOuter":0}}}}]}
  ]},
  {"spacing":0,"vconcat":[
   {"width":142,"height":50,"layer":[
    {"data":{"name":"ex"},"transform":[{"filter":"datum.g=='AT3G61440.1'"}],"mark":{"type":"rect","color":"#558ed5"},"encoding":{"x":{"field":"s","type":"quantitative","scale":{"domain":[0,100]}},"x2":{"field":"e"},"y":{"datum":0,"type":"quantitative","scale":{"domain":[0,10]}},"y2":{"datum":2.8}}},
    {"data":{"name":"in"},"transform":[{"filter":"datum.g=='AT3G61440.1'"}],"mark":{"type":"rule","color":"#558ed5","strokeWidth":3.5},"encoding":{"x":{"field":"s","type":"quantitative"},"x2":{"field":"e"},"y":{"datum":1.4,"type":"quantitative"}}},
    {"data":{"name":"il"},"transform":[{"filter":"datum.g=='AT3G61440.1'"}],"mark":{"type":"text","fontSize":18,"baseline":"alphabetic"},"encoding":{"x":{"field":"x","type":"quantitative"},"y":{"datum":3.2,"type":"quantitative"},"text":{"field":"t"}}},
    {"data":{"name":"genes"},"transform":[{"filter":"datum.g=='AT3G61440.1'"}],"mark":{"type":"text","fontSize":18,"baseline":"alphabetic"},"encoding":{"y":{"datum":7.2,"type":"quantitative"},"text":{"field":"g"}}}
   ]},
   {"width":142,"height":5,"data":{"values":[{}]},"encoding":{"y":{"datum":1,"type":"quantitative","scale":{"domain":[0,1]}}},"layer":[{"mark":{"type":"rule","yOffset":0.5},"encoding":{}},{"mark":{"type":"rule","yOffset":3.5},"encoding":{}}]},
   {"data":{"name":"cov"},"transform":[{"filter":"datum.g=='AT3G61440.1'&&datum.s=='hgf1-1'"},{"flatten":["x","y"]}],"facet":{"row":{"field":"r","type":"ordinal","header":null}},"spacing":0,"spec":{"width":142,"height":24,"view":{"fill":"#f8f8f8"},"layer":[{"mark":"area","encoding":{"x":{"field":"x","type":"quantitative","scale":{"domain":[0,100]}},"y":{"field":"y","type":"quantitative","scale":{"domain":[0,100]}}}},{"transform":[{"filter":"datum.r>1&&datum.x==0"}],"mark":{"type":"rule","color":"#d6d6d6","yOffset":0.5},"encoding":{"y":{"datum":100,"type":"quantitative"}}}]}},
   {"width":142,"height":11,"data":{"values":[{}]},"encoding":{"y":{"datum":1,"type":"quantitative","scale":{"domain":[0,1]}}},"layer":[{"mark":{"type":"rule","yOffset":2.5},"encoding":{}},{"mark":{"type":"rule","yOffset":5.5},"encoding":{}},{"mark":{"type":"rule","yOffset":9.5,"strokeWidth":1.5},"encoding":{}}]},
   {"data":{"name":"cov"},"transform":[{"filter":"datum.g=='AT3G61440.1'&&datum.s=='T #2'"},{"flatten":["x","y"]}],"facet":{"row":{"field":"r","type":"ordinal","header":null}},"spacing":0,"spec":{"width":142,"height":24,"view":{"fill":"#f8f8f8"},"layer":[{"mark":"area","encoding":{"x":{"field":"x","type":"quantitative","scale":{"domain":[0,100]}},"y":{"field":"y","type":"quantitative","scale":{"domain":[0,100]}}}},{"transform":[{"filter":"datum.r>1&&datum.x==0"}],"mark":{"type":"rule","color":"#d6d6d6","yOffset":0.5},"encoding":{"y":{"datum":100,"type":"quantitative"}}}]}},
   {"width":142,"height":19,"data":{"values":[{}]},"encoding":{"y":{"datum":1,"type":"quantitative","scale":{"domain":[0,1]}}},"layer":[{"mark":{"type":"rule","yOffset":0.5},"encoding":{}},{"mark":{"type":"rule","yOffset":3.5},"encoding":{}},{"mark":{"type":"rule","yOffset":15.5},"encoding":{}},{"mark":{"type":"rule","yOffset":18},"encoding":{}}]},
   {"data":{"name":"cov"},"transform":[{"filter":"datum.g=='AT3G61440.1'&&datum.s=='hgf1-8'"},{"flatten":["x","y"]}],"facet":{"row":{"field":"r","type":"ordinal","header":null}},"spacing":0,"spec":{"width":142,"height":24,"view":{"fill":"#f8f8f8"},"layer":[{"mark":"area","encoding":{"x":{"field":"x","type":"quantitative","scale":{"domain":[0,100]}},"y":{"field":"y","type":"quantitative","scale":{"domain":[0,100]}}}},{"transform":[{"filter":"datum.r>1&&datum.x==0"}],"mark":{"type":"rule","color":"#d6d6d6","yOffset":0.5},"encoding":{"y":{"datum":100,"type":"quantitative"}}}]}},
   {"width":142,"height":13,"data":{"values":[{}]},"encoding":{"y":{"datum":1,"type":"quantitative","scale":{"domain":[0,1]}}},"layer":[{"mark":{"type":"rule","yOffset":1.5},"encoding":{}},{"mark":{"type":"rule","yOffset":4.5},"encoding":{}},{"mark":{"type":"rule","yOffset":8.5},"encoding":{}},{"mark":{"type":"rule","yOffset":11.5},"encoding":{}}]},
   {"data":{"name":"cov"},"transform":[{"filter":"datum.g=='AT3G61440.1'&&datum.s=='T #1'"},{"flatten":["x","y"]}],"facet":{"row":{"field":"r","type":"ordinal","header":null}},"spacing":0,"spec":{"width":142,"height":24,"view":{"fill":"#f8f8f8"},"layer":[{"mark":"area","encoding":{"x":{"field":"x","type":"quantitative","scale":{"domain":[0,100]}},"y":{"field":"y","type":"quantitative","scale":{"domain":[0,100]}}}},{"transform":[{"filter":"datum.r>1&&datum.x==0"}],"mark":{"type":"rule","color":"#d6d6d6","yOffset":0.5},"encoding":{"y":{"datum":100,"type":"quantitative"}}}]}},
   {"width":142,"height":2,"data":{"values":[{}]},"encoding":{"y":{"datum":1,"type":"quantitative","scale":{"domain":[0,1]}}},"layer":[{"mark":{"type":"rule","yOffset":0.5},"encoding":{}}]},
   {"width":142,"height":16,"data":{"name":"genes"},"transform":[{"filter":"datum.g=='AT3G61440.1'"}],"mark":{"type":"text","fontSize":16},"encoding":{"text":{"field":"rng"}}}
  ]},
  {"width":63.5,"height":1,"data":{"values":[]},"mark":"point"},
  {"spacing":0,"vconcat":[
   {"width":103,"height":50,"layer":[
    {"data":{"name":"ex"},"transform":[{"filter":"datum.g=='AT3G63520.1'"}],"mark":{"type":"rect","color":"#558ed5"},"encoding":{"x":{"field":"s","type":"quantitative","scale":{"domain":[0,100]}},"x2":{"field":"e"},"y":{"datum":0,"type":"quantitative","scale":{"domain":[0,10]}},"y2":{"datum":2.8}}},
    {"data":{"name":"in"},"transform":[{"filter":"datum.g=='AT3G63520.1'"}],"mark":{"type":"rule","color":"#558ed5","strokeWidth":3.5},"encoding":{"x":{"field":"s","type":"quantitative"},"x2":{"field":"e"},"y":{"datum":1.4,"type":"quantitative"}}},
    {"data":{"name":"il"},"transform":[{"filter":"datum.g=='AT3G63520.1'"}],"mark":{"type":"text","fontSize":18,"baseline":"alphabetic"},"encoding":{"x":{"field":"x","type":"quantitative"},"y":{"datum":3.2,"type":"quantitative"},"text":{"field":"t"}}},
    {"data":{"name":"genes"},"transform":[{"filter":"datum.g=='AT3G63520.1'"}],"mark":{"type":"text","fontSize":18,"baseline":"alphabetic"},"encoding":{"y":{"datum":7.2,"type":"quantitative"},"text":{"field":"g"}}}
   ]},
   {"width":103,"height":5,"data":{"values":[{}]},"encoding":{"y":{"datum":1,"type":"quantitative","scale":{"domain":[0,1]}}},"layer":[{"mark":{"type":"rule","yOffset":0.5},"encoding":{}},{"mark":{"type":"rule","yOffset":3.5},"encoding":{}}]},
   {"data":{"name":"cov"},"transform":[{"filter":"datum.g=='AT3G63520.1'&&datum.s=='hgf1-1'"},{"flatten":["x","y"]}],"facet":{"row":{"field":"r","type":"ordinal","header":null}},"spacing":0,"spec":{"width":103,"height":24,"view":{"fill":"#f8f8f8"},"layer":[{"mark":"area","encoding":{"x":{"field":"x","type":"quantitative","scale":{"domain":[0,100]}},"y":{"field":"y","type":"quantitative","scale":{"domain":[0,250]}}}},{"transform":[{"filter":"datum.r>1&&datum.x==0"}],"mark":{"type":"rule","color":"#d6d6d6","yOffset":0.5},"encoding":{"y":{"datum":250,"type":"quantitative"}}}]}},
   {"width":103,"height":11,"data":{"values":[{}]},"encoding":{"y":{"datum":1,"type":"quantitative","scale":{"domain":[0,1]}}},"layer":[{"mark":{"type":"rule","yOffset":2.5},"encoding":{}},{"mark":{"type":"rule","yOffset":5.5},"encoding":{}},{"mark":{"type":"rule","yOffset":9.5,"strokeWidth":1.5},"encoding":{}}]},
   {"data":{"name":"cov"},"transform":[{"filter":"datum.g=='AT3G63520.1'&&datum.s=='T #2'"},{"flatten":["x","y"]}],"facet":{"row":{"field":"r","type":"ordinal","header":null}},"spacing":0,"spec":{"width":103,"height":24,"view":{"fill":"#f8f8f8"},"layer":[{"mark":"area","encoding":{"x":{"field":"x","type":"quantitative","scale":{"domain":[0,100]}},"y":{"field":"y","type":"quantitative","scale":{"domain":[0,250]}}}},{"transform":[{"filter":"datum.r>1&&datum.x==0"}],"mark":{"type":"rule","color":"#d6d6d6","yOffset":0.5},"encoding":{"y":{"datum":250,"type":"quantitative"}}}]}},
   {"width":103,"height":19,"data":{"values":[{}]},"encoding":{"y":{"datum":1,"type":"quantitative","scale":{"domain":[0,1]}}},"layer":[{"mark":{"type":"rule","yOffset":0.5},"encoding":{}},{"mark":{"type":"rule","yOffset":3.5},"encoding":{}},{"mark":{"type":"rule","yOffset":15.5},"encoding":{}},{"mark":{"type":"rule","yOffset":18},"encoding":{}}]},
   {"data":{"name":"cov"},"transform":[{"filter":"datum.g=='AT3G63520.1'&&datum.s=='hgf1-8'"},{"flatten":["x","y"]}],"facet":{"row":{"field":"r","type":"ordinal","header":null}},"spacing":0,"spec":{"width":103,"height":24,"view":{"fill":"#f8f8f8"},"layer":[{"mark":"area","encoding":{"x":{"field":"x","type":"quantitative","scale":{"domain":[0,100]}},"y":{"field":"y","type":"quantitative","scale":{"domain":[0,250]}}}},{"transform":[{"filter":"datum.r>1&&datum.x==0"}],"mark":{"type":"rule","color":"#d6d6d6","yOffset":0.5},"encoding":{"y":{"datum":250,"type":"quantitative"}}}]}},
   {"width":103,"height":13,"data":{"values":[{}]},"encoding":{"y":{"datum":1,"type":"quantitative","scale":{"domain":[0,1]}}},"layer":[{"mark":{"type":"rule","yOffset":1.5},"encoding":{}},{"mark":{"type":"rule","yOffset":4.5},"encoding":{}},{"mark":{"type":"rule","yOffset":8.5},"encoding":{}},{"mark":{"type":"rule","yOffset":11.5},"encoding":{}}]},
   {"data":{"name":"cov"},"transform":[{"filter":"datum.g=='AT3G63520.1'&&datum.s=='T #1'"},{"flatten":["x","y"]}],"facet":{"row":{"field":"r","type":"ordinal","header":null}},"spacing":0,"spec":{"width":103,"height":24,"view":{"fill":"#f8f8f8"},"layer":[{"mark":"area","encoding":{"x":{"field":"x","type":"quantitative","scale":{"domain":[0,100]}},"y":{"field":"y","type":"quantitative","scale":{"domain":[0,250]}}}},{"transform":[{"filter":"datum.r>1&&datum.x==0"}],"mark":{"type":"rule","color":"#d6d6d6","yOffset":0.5},"encoding":{"y":{"datum":250,"type":"quantitative"}}}]}},
   {"width":103,"height":2,"data":{"values":[{}]},"encoding":{"y":{"datum":1,"type":"quantitative","scale":{"domain":[0,1]}}},"layer":[{"mark":{"type":"rule","yOffset":0.5},"encoding":{}}]},
   {"width":103,"height":16,"data":{"name":"genes"},"transform":[{"filter":"datum.g=='AT3G63520.1'"}],"mark":{"type":"text","fontSize":16},"encoding":{"text":{"field":"rng"}}}
  ]},
  {"width":73.5,"height":1,"data":{"values":[]},"mark":"point"},
  {"spacing":0,"vconcat":[
   {"width":151,"height":50,"layer":[
    {"data":{"name":"ex"},"transform":[{"filter":"datum.g=='AT4G12420.2'"}],"mark":{"type":"rect","color":"#558ed5"},"encoding":{"x":{"field":"s","type":"quantitative","scale":{"domain":[0,100]}},"x2":{"field":"e"},"y":{"datum":0,"type":"quantitative","scale":{"domain":[0,10]}},"y2":{"datum":2.8}}},
    {"data":{"name":"in"},"transform":[{"filter":"datum.g=='AT4G12420.2'"}],"mark":{"type":"rule","color":"#558ed5","strokeWidth":3.5},"encoding":{"x":{"field":"s","type":"quantitative"},"x2":{"field":"e"},"y":{"datum":1.4,"type":"quantitative"}}},
    {"data":{"name":"il"},"transform":[{"filter":"datum.g=='AT4G12420.2'"}],"mark":{"type":"text","fontSize":18,"baseline":"alphabetic"},"encoding":{"x":{"field":"x","type":"quantitative"},"y":{"datum":3.2,"type":"quantitative"},"text":{"field":"t"}}},
    {"data":{"name":"genes"},"transform":[{"filter":"datum.g=='AT4G12420.2'"}],"mark":{"type":"text","fontSize":18,"baseline":"alphabetic","dx":14},"encoding":{"y":{"datum":7.2,"type":"quantitative"},"text":{"field":"g"}}}
   ]},
   {"width":151,"height":5,"data":{"values":[{}]},"encoding":{"y":{"datum":1,"type":"quantitative","scale":{"domain":[0,1]}}},"layer":[{"mark":{"type":"rule","yOffset":0.5},"encoding":{}},{"mark":{"type":"rule","yOffset":3.5},"encoding":{}}]},
   {"data":{"name":"cov"},"transform":[{"filter":"datum.g=='AT4G12420.2'&&datum.s=='hgf1-1'"},{"flatten":["x","y"]}],"facet":{"row":{"field":"r","type":"ordinal","header":null}},"spacing":0,"spec":{"width":151,"height":24,"view":{"fill":"#f8f8f8"},"layer":[{"mark":"area","encoding":{"x":{"field":"x","type":"quantitative","scale":{"domain":[0,100]}},"y":{"field":"y","type":"quantitative","scale":{"domain":[0,250]}}}},{"transform":[{"filter":"datum.r>1&&datum.x==0"}],"mark":{"type":"rule","color":"#d6d6d6","yOffset":0.5},"encoding":{"y":{"datum":250,"type":"quantitative"}}}]}},
   {"width":151,"height":11,"data":{"values":[{}]},"encoding":{"y":{"datum":1,"type":"quantitative","scale":{"domain":[0,1]}}},"layer":[{"mark":{"type":"rule","yOffset":2.5},"encoding":{}},{"mark":{"type":"rule","yOffset":5.5},"encoding":{}},{"mark":{"type":"rule","yOffset":9.5,"strokeWidth":1.5},"encoding":{}}]},
   {"data":{"name":"cov"},"transform":[{"filter":"datum.g=='AT4G12420.2'&&datum.s=='T #2'"},{"flatten":["x","y"]}],"facet":{"row":{"field":"r","type":"ordinal","header":null}},"spacing":0,"spec":{"width":151,"height":24,"view":{"fill":"#f8f8f8"},"layer":[{"mark":"area","encoding":{"x":{"field":"x","type":"quantitative","scale":{"domain":[0,100]}},"y":{"field":"y","type":"quantitative","scale":{"domain":[0,250]}}}},{"transform":[{"filter":"datum.r>1&&datum.x==0"}],"mark":{"type":"rule","color":"#d6d6d6","yOffset":0.5},"encoding":{"y":{"datum":250,"type":"quantitative"}}}]}},
   {"width":151,"height":19,"data":{"values":[{}]},"encoding":{"y":{"datum":1,"type":"quantitative","scale":{"domain":[0,1]}}},"layer":[{"mark":{"type":"rule","yOffset":0.5},"encoding":{}},{"mark":{"type":"rule","yOffset":3.5},"encoding":{}},{"mark":{"type":"rule","yOffset":15.5},"encoding":{}},{"mark":{"type":"rule","yOffset":18},"encoding":{}}]},
   {"data":{"name":"cov"},"transform":[{"filter":"datum.g=='AT4G12420.2'&&datum.s=='hgf1-8'"},{"flatten":["x","y"]}],"facet":{"row":{"field":"r","type":"ordinal","header":null}},"spacing":0,"spec":{"width":151,"height":24,"view":{"fill":"#f8f8f8"},"layer":[{"mark":"area","encoding":{"x":{"field":"x","type":"quantitative","scale":{"domain":[0,100]}},"y":{"field":"y","type":"quantitative","scale":{"domain":[0,250]}}}},{"transform":[{"filter":"datum.r>1&&datum.x==0"}],"mark":{"type":"rule","color":"#d6d6d6","yOffset":0.5},"encoding":{"y":{"datum":250,"type":"quantitative"}}}]}},
   {"width":151,"height":13,"data":{"values":[{}]},"encoding":{"y":{"datum":1,"type":"quantitative","scale":{"domain":[0,1]}}},"layer":[{"mark":{"type":"rule","yOffset":1.5},"encoding":{}},{"mark":{"type":"rule","yOffset":4.5},"encoding":{}},{"mark":{"type":"rule","yOffset":8.5},"encoding":{}},{"mark":{"type":"rule","yOffset":11.5},"encoding":{}}]},
   {"data":{"name":"cov"},"transform":[{"filter":"datum.g=='AT4G12420.2'&&datum.s=='T #1'"},{"flatten":["x","y"]}],"facet":{"row":{"field":"r","type":"ordinal","header":null}},"spacing":0,"spec":{"width":151,"height":24,"view":{"fill":"#f8f8f8"},"layer":[{"mark":"area","encoding":{"x":{"field":"x","type":"quantitative","scale":{"domain":[0,100]}},"y":{"field":"y","type":"quantitative","scale":{"domain":[0,250]}}}},{"transform":[{"filter":"datum.r>1&&datum.x==0"}],"mark":{"type":"rule","color":"#d6d6d6","yOffset":0.5},"encoding":{"y":{"datum":250,"type":"quantitative"}}}]}},
   {"width":151,"height":2,"data":{"values":[{}]},"encoding":{"y":{"datum":1,"type":"quantitative","scale":{"domain":[0,1]}}},"layer":[{"mark":{"type":"rule","yOffset":0.5},"encoding":{}}]},
   {"width":151,"height":16,"data":{"name":"genes"},"transform":[{"filter":"datum.g=='AT4G12420.2'"}],"mark":{"type":"text","fontSize":16,"dx":10},"encoding":{"text":{"field":"rng"}}}
  ]}
 ]}
]
}
